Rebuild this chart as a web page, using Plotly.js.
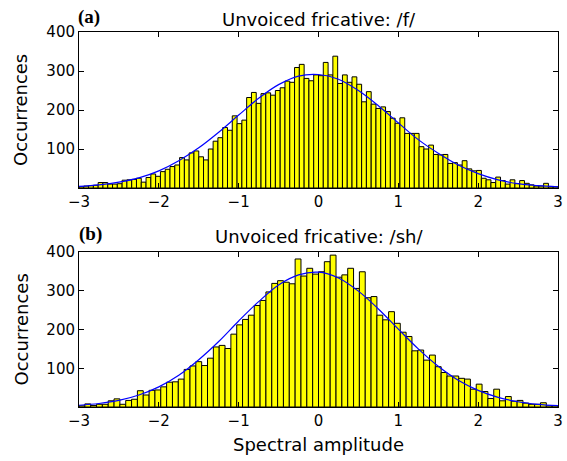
<!DOCTYPE html>
<html>
<head>
<meta charset="utf-8">
<script src="https://cdn.plot.ly/plotly-3.0.1.min.js"></script>
<style>
  html, body { margin: 0; padding: 0; background: #ffffff; }
  #chart { width: 567px; height: 461px; }
</style>
</head>
<body>
<div id="chart"></div>
<script>
// ---- Data ----
// Histogram counts, unvoiced fricative /f/ (100 bins over -3..3)
const fCounts = [3,5,6,7,14,14,10,10,11,20,21,22,25,15,27,36,30,42,48,55,59,78,72,
  90,95,80,72,100,120,129,155,148,185,165,174,232,245,217,242,244,238,250,257,274,271,309,
  317,281,275,290,288,322,290,338,268,290,271,285,266,221,247,215,204,208,196,179,166,180,140,140,140,
  106,100,110,86,85,86,63,65,59,70,49,44,45,25,21,14,28,19,10,21,11,19,12,8,5,5,12,3,3];

// Histogram counts, unvoiced fricative /sh/ (82 bins over -3..3)
const shCounts = [3,8,4,7,7,16,21,7,17,20,42,31,43,44,52,64,65,72,97,106,
  117,107,126,155,159,151,188,212,226,237,262,275,297,319,326,322,318,382,338,358,
  343,349,375,392,335,341,358,306,349,282,285,237,225,246,216,193,182,145,
  147,121,134,104,89,80,80,74,72,46,59,40,22,46,16,27,15,17,10,7,7,11,3,3];

// Fitted curves (values read at these amplitudes)
const curveX = [-3,-2.75,-2.5,-2.25,-2,-1.75,-1.5,-1.25,-1,-0.75,-0.5,-0.25,0,
  0.25,0.5,0.75,1,1.25,1.5,1.75,2,2.25,2.5,2.75,3];
const fCurve = [4,8,15,26,44,70,103,143,187,230,265,287,291,279,250,211,167,124,89,59,37,21,11,6,3];
const shCurve = [4.5,9,17,31,52,82,122,169,222,272,315,341,348,333,299,253,201,150,105,69,43,25,13.5,7,3.3];

const xTicks = [-3,-2,-1,0,1,2,3];
const yTicks = [100,200,300,400];
const histRange = [-3, 3];

const titleF = "Unvoiced fricative: /f/";
const titleSh = "Unvoiced fricative: /sh/";
const labelA = "(a)";
const labelB = "(b)";
const yTitle = "Occurrences";
const xTitle = "Spectral amplitude";

// ---- Build traces ----
function binCenters(n) {
  const w = (histRange[1] - histRange[0]) / n;
  const c = [];
  for (let i = 0; i < n; i++) c.push(histRange[0] + (i + 0.5) * w);
  return { c: c, w: w };
}
const bf = binCenters(fCounts.length);
const bs = binCenters(shCounts.length);

const barStyle = { color: '#ffff00', line: { color: '#000000', width: 1 } };

const traces = [
  { type: 'bar', x: bf.c, y: fCounts, width: bf.w, marker: barStyle, xaxis: 'x', yaxis: 'y', hoverinfo: 'skip' },
  { type: 'scatter', mode: 'lines', x: curveX, y: fCurve, line: { color: '#0000ff', width: 1.2, shape: 'spline' }, xaxis: 'x', yaxis: 'y' },
  { type: 'bar', x: bs.c, y: shCounts, width: bs.w, marker: barStyle, xaxis: 'x2', yaxis: 'y2', hoverinfo: 'skip' },
  { type: 'scatter', mode: 'lines', x: curveX, y: shCurve, line: { color: '#0000ff', width: 1.2, shape: 'spline' }, xaxis: 'x2', yaxis: 'y2' }
];

const fam = 'DejaVu Sans, Liberation Sans, Arial, sans-serif';
const font = { family: fam, size: 15, color: '#000000' };

function xAxis(anchor) {
  return {
    anchor: anchor, domain: [0, 1], range: histRange, tickvals: xTicks,
    ticks: 'inside', ticklen: 5, tickwidth: 1, tickcolor: '#000',
    showline: true, linecolor: '#000', linewidth: 1, mirror: 'ticks',
    showgrid: false, zeroline: false, tickfont: font
  };
}
function yAxis(anchor, dom) {
  return {
    anchor: anchor, domain: dom, range: [0, 400], tickvals: yTicks,
    ticks: 'inside', ticklen: 5, tickwidth: 1, tickcolor: '#000',
    showline: true, linecolor: '#000', linewidth: 1, mirror: 'ticks',
    showgrid: false, zeroline: false, tickfont: font
  };
}

const titleFont = { family: fam, size: 18, color: '#000' };
const labFont = { family: 'Liberation Serif, Times New Roman, serif', size: 19, color: '#000' };
const axTitleFont = { family: fam, size: 18, color: '#000' };

const layout = {
  width: 567, height: 461,
  margin: { l: 79, r: 9, t: 32, b: 54 },
  paper_bgcolor: '#ffffff', plot_bgcolor: '#ffffff',
  showlegend: false,
  bargap: 0,
  xaxis: xAxis('y'),
  yaxis: yAxis('x', [0.584, 1]),
  xaxis2: xAxis('y2'),
  yaxis2: yAxis('x2', [0, 0.4133]),
  annotations: [
    { text: titleF, xref: 'paper', yref: 'paper', x: 0.5, y: 1.034, xanchor: 'center', yanchor: 'middle', showarrow: false, font: titleFont },
    { text: titleSh, xref: 'paper', yref: 'paper', x: 0.5, y: 0.4553, xanchor: 'center', yanchor: 'middle', showarrow: false, font: titleFont },
    { text: '<b>' + labelA + '</b>', xref: 'paper', yref: 'paper', x: 0.02, y: 1.04, xanchor: 'center', yanchor: 'middle', showarrow: false, font: labFont },
    { text: '<b>' + labelB + '</b>', xref: 'paper', yref: 'paper', x: 0.025, y: 0.461, xanchor: 'center', yanchor: 'middle', showarrow: false, font: labFont },
    { text: yTitle, xref: 'paper', yref: 'paper', x: -0.121, y: 0.792, xanchor: 'center', yanchor: 'middle', textangle: -90, showarrow: false, font: axTitleFont },
    { text: yTitle, xref: 'paper', yref: 'paper', x: -0.121, y: 0.2067, xanchor: 'center', yanchor: 'middle', textangle: -90, showarrow: false, font: axTitleFont },
    { text: xTitle, xref: 'paper', yref: 'paper', x: 0.5, y: -0.101, xanchor: 'center', yanchor: 'middle', showarrow: false, font: axTitleFont }
  ]
};

Plotly.newPlot('chart', traces, layout, { staticPlot: true, displayModeBar: false });
</script>
</body>
</html>
